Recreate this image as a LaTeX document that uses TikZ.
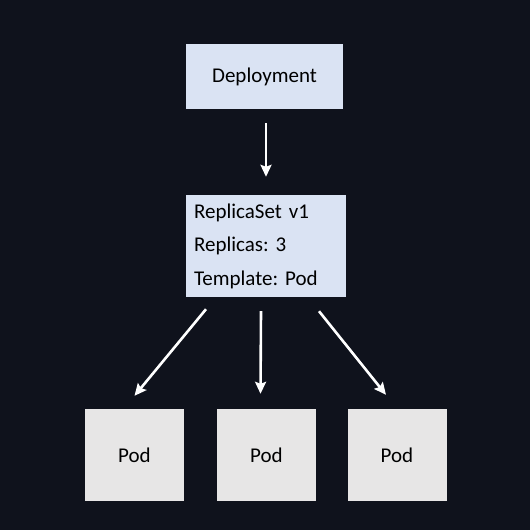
\documentclass[tikz,border=0pt]{standalone}
\usepackage{fontspec}
\setmainfont{Carlito}
\usetikzlibrary{arrows.meta}
\definecolor{bgNavy}{HTML}{0F121C}
\definecolor{deployBlue}{HTML}{DAE3F3}
\definecolor{podGrey}{HTML}{E7E6E6}
\newcommand*{\boxFont}{\frenchspacing\fontsize{21}{33.5}\selectfont}

\begin{document}
\begin{tikzpicture}[x=1pt, y=-1pt,
    box/.style={fill=deployBlue, inner sep=0pt, font=\boxFont},
    podbox/.style={fill=podGrey, minimum width=99pt, minimum height=92pt, inner sep=0pt, font=\boxFont},
    arr/.style={draw=white, line width=2.6pt, -{Stealth[length=12pt, width=11pt, inset=2pt]}}]
\fill[bgNavy] (0,0) rectangle (530,530);
\useasboundingbox (0,0) rectangle (530,530);
% controllers
\node[box, minimum width=157pt, minimum height=65pt] (deploy) at (264.5,76.5) {Deployment};
\node[box, minimum width=160pt, minimum height=102pt, text width=144pt, align=left] (rs) at (266,246)
    {ReplicaSet v1\\Replicas: 3\\Template: Pod};
% pods
\node[podbox] (pod1) at (134.5,455) {Pod};
\node[podbox] (pod2) at (266.5,455) {Pod};
\node[podbox] (pod3) at (397,455) {Pod};
% arrows (yshift is page-up)
\draw[arr] ([xshift=1.5pt, yshift=-14pt]deploy.south) -- ([yshift=18pt]rs.north);
\draw[arr] ([xshift=-60pt, yshift=-12pt]rs.south) -- ([yshift=13pt]pod1.north);
\draw[arr] ([xshift=-5pt, yshift=-14pt]rs.south) -- ([xshift=-6pt, yshift=15pt]pod2.north);
\draw[arr] ([xshift=53pt, yshift=-14pt]rs.south) -- ([xshift=-11pt, yshift=14pt]pod3.north);
\end{tikzpicture}
\end{document}
